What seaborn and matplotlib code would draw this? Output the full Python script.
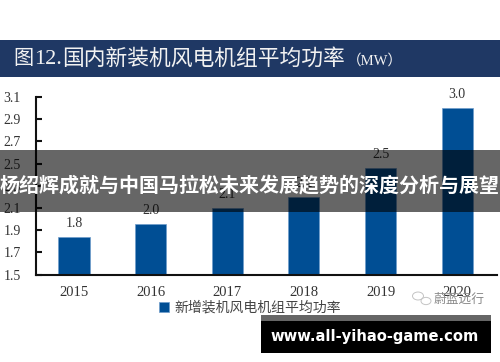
import matplotlib
matplotlib.use("Agg")
import matplotlib.pyplot as plt
from matplotlib.patches import Rectangle, Circle
import pandas as pd
import seaborn as sns

years = ["2015", "2016", "2017", "2018", "2019", "2020"]
power = [1.84, 1.955, 2.10, 2.20, 2.46, 3.0]
bar_labels = ["1.8", "2.0", "2.1", "2.2", "2.5", "3.0"]
y_ticks = [1.5, 1.7, 1.9, 2.1, 2.3, 2.5, 2.7, 2.9, 3.1]
series_name = "新增装机风电机组平均功率"

W, H = 500, 362
CJK = ["Noto Sans CJK SC", "DejaVu Sans"]
SERIF = "Liberation Serif"


def fx(px):
    return px / W


def fy(px):
    return 1 - px / H


sns.set_theme(style="white")
plt.rcParams["font.family"] = [SERIF, "Noto Sans CJK SC"]

df = pd.DataFrame({"year": years, "power": power})

fig = plt.figure(figsize=(5, 3.62), dpi=100, facecolor="white")

# plot area in pixels: x 36-497, y 97-274
ax = fig.add_axes([fx(36), fy(274.5), fx(461), (274.5 - 97) / H])
sns.barplot(data=df, x="year", y="power", color="#004e94", saturation=1,
            width=0.405, ax=ax, label=series_name)
ax.set_xlim(-0.496, 5.52)
ax.set_ylim(1.5, 3.1)
ax.set_xlabel("")
ax.set_ylabel("")
ax.set_yticks(y_ticks)
ax.set_yticklabels([f"{t:.1f}" for t in y_ticks], fontsize=10, color="#333333")
ax.tick_params(axis="y", direction="in", length=4, width=1.5, color="#111111", pad=11, left=True)
ax.tick_params(axis="x", length=0, labelsize=10.5, labelcolor="#333333", pad=8)
for s in ["top", "right"]:
    ax.spines[s].set_visible(False)
for s in ["left", "bottom"]:
    ax.spines[s].set_linewidth(1.5)
    ax.spines[s].set_color("#111111")
for bar in ax.patches:
    bar.set_edgecolor("#6f9ccb")
    bar.set_linewidth(0.5)
for i, lab in enumerate(bar_labels):
    ax.annotate(lab, (i, power[i]), xytext=(0, 7), textcoords="offset pixels",
                ha="center", va="bottom", fontsize=10, color="#333333")

leg = ax.legend(loc="center", bbox_to_anchor=(fx(250), fy(308)), bbox_transform=fig.transFigure,
                frameon=False, handlelength=0.7, handleheight=0.7,
                handletextpad=0.35, prop={"family": CJK, "size": 10})
for t in leg.get_texts():
    t.set_color("#444444")

# title banner
fig.add_artist(Rectangle((0, fy(76.5)), 1, 36.5 / H, transform=fig.transFigure,
                         facecolor="#1f3864", edgecolor="none", zorder=5))
fig.text(fx(13), fy(59), "图", family=CJK, fontsize=14.5, color="#f2f2f2", va="center", zorder=6)
fig.text(fx(34), fy(59), "12.", family=SERIF, fontsize=16, color="#f2f2f2", va="center", zorder=6)
fig.text(fx(62), fy(59), "国内新装机风电机组平均功率", family=CJK, fontsize=15.7,
         color="#f2f2f2", va="center", zorder=6)
fig.text(fx(347), fy(61), "（MW）", family=[SERIF, "Noto Sans CJK SC"], fontsize=10.5,
         color="#f2f2f2", va="center", ha="left", zorder=6)

# grey overlay band
fig.add_artist(Rectangle((0, fy(212)), 1, 62 / H, transform=fig.transFigure,
                         facecolor="black", alpha=0.6, edgecolor="none", zorder=7))
fig.text(fx(250), fy(185), "杨绍辉成就与中国马拉松未来发展趋势的深度分析与展望",
         family=CJK, fontsize=14.4, fontweight="bold", color="white",
         ha="center", va="center", zorder=8)

# wechat mark
for cx, cy, r in [(418, 296, 5.5), (426, 301, 5)]:
    fig.add_artist(Circle((fx(cx), fy(cy)), r / W, transform=fig.transFigure, fill=False,
                          edgecolor="#c4c4c4", linewidth=0.7, zorder=6))
fig.text(fx(434), fy(299), "蔚蓝远行", family=CJK, fontsize=9.2, color="#8a8a8a", va="center", zorder=6)

# site watermark box
fig.add_artist(Rectangle((fx(261), fy(353)), 230 / W, 38 / H, transform=fig.transFigure,
                         facecolor="#666666", edgecolor="none", zorder=9))
fig.add_artist(Rectangle((fx(261), fy(353)), 230 / W, 32 / H, transform=fig.transFigure,
                         facecolor="black", edgecolor="none", zorder=10))
fig.text(fx(375), fy(336.5), "www.all-yihao-game.com", family="DejaVu Sans", fontsize=10.6,
         fontweight="bold", color="white", ha="center", va="center", zorder=11)

fig.savefig("out.png", dpi=100)
